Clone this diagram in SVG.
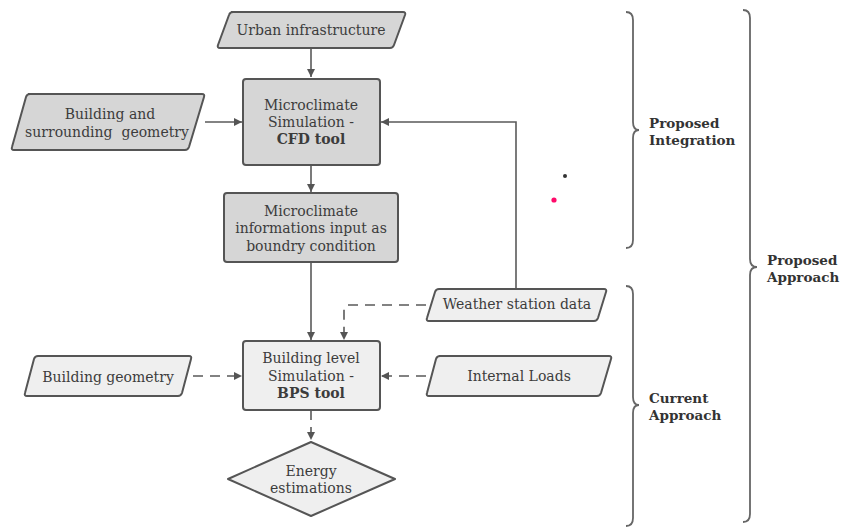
<svg xmlns="http://www.w3.org/2000/svg" width="841" height="530" viewBox="0 0 841 530">
<style>
.t{font-family:"DejaVu Serif","Liberation Serif",serif;font-size:14px;fill:#3c3c3c;text-anchor:middle;white-space:pre}
.b{font-weight:bold}
.lbl{font-family:"DejaVu Serif","Liberation Serif",serif;font-size:13.5px;font-weight:bold;fill:#333}
.dk{fill:#d6d6d6;stroke:#555;stroke-width:2}
.lt{fill:#efefef;stroke:#555;stroke-width:2}
.c{fill:none;stroke:#5a5a5a;stroke-width:1.6}
.d{stroke-dasharray:10 7}
.br{fill:none;stroke:#666;stroke-width:1.8}
</style>
<defs>
<marker id="ah" viewBox="0 0 10 10" refX="10" refY="5" markerWidth="8" markerHeight="8" markerUnits="userSpaceOnUse" orient="auto">
<path d="M0,0 L10,5 L0,10 z" fill="#555"/>
</marker>
</defs>
<rect width="841" height="530" fill="#fff"/>
<g id="connectors">
<path class="c" d="M311,48 V77" marker-end="url(#ah)"/>
<path class="c" d="M205,122 H242" marker-end="url(#ah)"/>
<path class="c" d="M516,289 V122 H381" marker-end="url(#ah)"/>
<path class="c" d="M311,165 V192" marker-end="url(#ah)"/>
<path class="c" d="M311,262 V340" marker-end="url(#ah)"/>
<path class="c d" d="M426,305 H348 Q344,305 344,309 V340" marker-end="url(#ah)"/>
<path class="c d" d="M193,376 H242" marker-end="url(#ah)"/>
<path class="c d" d="M426,376 H381" marker-end="url(#ah)"/>
<path class="c d" d="M311,410 V440" marker-end="url(#ah)"/>
</g>
<g id="urban">
<path class="dk" d="M231,12 H403 Q406,12 405,15 L394,45 Q393,48 390,48 H220 Q217,48 218,45 L229,15 Q230,12 233,12 z"/>
<text class="t" x="311" y="35">Urban infrastructure</text>
</g>
<g id="cfd">
<rect class="dk" x="243" y="79" width="137" height="86" rx="3"/>
<text class="t" x="311" y="110">Microclimate</text>
<text class="t" x="311" y="127">Simulation -</text>
<text class="t b" x="311" y="144">CFD tool</text>
</g>
<g id="geometry">
<path class="dk" d="M28,94 H202 Q205,94 204,97 L189,147 Q188,150 185,150 H14 Q11,150 12,147 L26,97 Q27,94 30,94 z"/>
<text class="t" x="110" y="119">Building and</text>
<text class="t" x="107" y="137">surrounding  geometry</text>
</g>
<g id="microinfo">
<rect class="dk" x="224" y="193" width="174" height="69" rx="3"/>
<text class="t" x="311" y="216">Microclimate</text>
<text class="t" x="311" y="233">informations input as</text>
<text class="t" x="311" y="251">boundry condition</text>
</g>
<g id="bps">
<rect class="lt" x="243" y="341" width="137" height="69" rx="3"/>
<text class="t" x="311" y="363">Building level</text>
<text class="t" x="311" y="381">Simulation -</text>
<text class="t b" x="311" y="398">BPS tool</text>
</g>
<g id="bgeom">
<path class="lt" d="M38,356 H189 Q192,356 191,359 L182,393 Q181,396 178,396 H27 Q24,396 25,393 L34,359 Q35,356 38,356 z"/>
<text class="t" x="108" y="382">Building geometry</text>
</g>
<g id="weather">
<path class="lt" d="M439,289 H604 Q607,289 606,292 L598,318 Q597,321 594,321 H429 Q426,321 427,318 L435,292 Q436,289 439,289 z"/>
<text class="t" x="517" y="309">Weather station data</text>
</g>
<g id="internal">
<path class="lt" d="M439,356 H609 Q612,356 611,359 L601,393 Q600,396 597,396 H429 Q426,396 427,393 L436,359 Q437,356 440,356 z"/>
<text class="t" x="519" y="381">Internal Loads</text>
</g>
<g id="energy">
<path class="lt" d="M311,442 L395,479 L311,516 L228,479 z" stroke-linejoin="round"/>
<text class="t" x="311" y="476">Energy</text>
<text class="t" x="311" y="493">estimations</text>
</g>
<g id="braces">
<path class="br" d="M626,12 Q633,12 633,20 V122 Q633,130 639,130 Q633,130 633,138 V240 Q633,248 626,248"/>
<path class="br" d="M626,286 Q633,286 633,294 V397 Q633,405 639,405 Q633,405 633,413 V518 Q633,526 626,526"/>
<path class="br" d="M743,10 Q750,10 750,18 V259 Q750,267 757,267 Q750,267 750,275 V514 Q750,522 743,522"/>
<text class="lbl" x="649" y="128">Proposed</text>
<text class="lbl" x="649" y="145">Integration</text>
<text class="lbl" x="649" y="403">Current</text>
<text class="lbl" x="649" y="420">Approach</text>
<text class="lbl" x="767" y="265">Proposed</text>
<text class="lbl" x="767" y="282">Approach</text>
</g>
<circle cx="565" cy="176" r="2" fill="#333"/>
<circle cx="554" cy="200" r="2.6" fill="#ff0a6a"/>
</svg>
